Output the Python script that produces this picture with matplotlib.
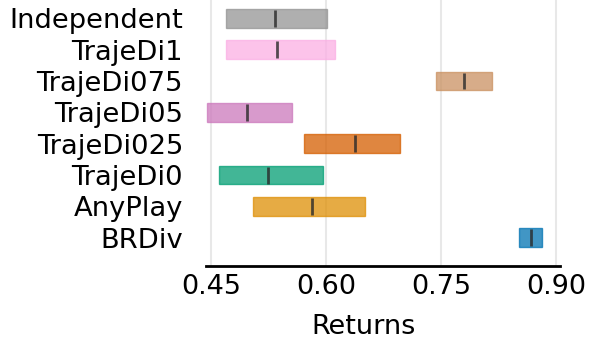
import numpy as np
import matplotlib
matplotlib.use('Agg')
import matplotlib.pyplot as plt

# data (min, median, max of returns per method)
methods = ['Independent', 'TrajeDi1', 'TrajeDi075', 'TrajeDi05',
           'TrajeDi025', 'TrajeDi0', 'AnyPlay', 'BRDiv']
low = [0.4696, 0.4692, 0.7431, 0.4452, 0.5717, 0.4609, 0.5052, 0.8517]
mid = [0.5335, 0.5365, 0.7804, 0.4974, 0.6378, 0.5243, 0.5813, 0.8670]
high = [0.6013, 0.6117, 0.8161, 0.5560, 0.6965, 0.5957, 0.6509, 0.8817]
colors = ['#949494', '#fbafe4', '#ca9161', '#cc78bc',
          '#d55e00', '#029e73', '#de8f05', '#0173b2']
xticks = [0.45, 0.60, 0.75, 0.90]

fig = plt.figure(figsize=(5.98, 3.48), dpi=100, facecolor='w')
ax = fig.add_axes([206/598, 82/348, 354/598, 266/348])

pos = np.arange(len(methods))
widths = np.array(high) - np.array(low)
ax.barh(pos, widths, left=low, height=0.6, color=colors, alpha=0.75,
        edgecolor=colors, linewidth=1, zorder=2)
ax.vlines(mid, pos - 0.27, pos + 0.27, color='#2a2a2a', alpha=0.8,
          linewidth=2, zorder=3)

ax.set_xlim(0.4435, 0.9052)
ax.set_ylim(7.9, -0.584)
ax.set_xticks(xticks)
ax.set_xticklabels(['%.2f' % t for t in xticks])
ax.set_yticks(pos)
ax.set_yticklabels(methods)
ax.tick_params(axis='x', length=0, labelsize=19.5, pad=6)
ax.tick_params(axis='y', length=0, labelsize=19.7, pad=16.5)
ax.grid(axis='x', color='#e8e8e8', linewidth=1.5, zorder=0)
ax.set_axisbelow(True)
for s in ['top', 'right', 'left']:
    ax.spines[s].set_visible(False)
ax.spines['bottom'].set_linewidth(2)
ax.set_xlabel('Returns', fontsize=19.5)
ax.xaxis.set_label_coords(0.446, -0.182)

fig.savefig('out.png', dpi=100)
